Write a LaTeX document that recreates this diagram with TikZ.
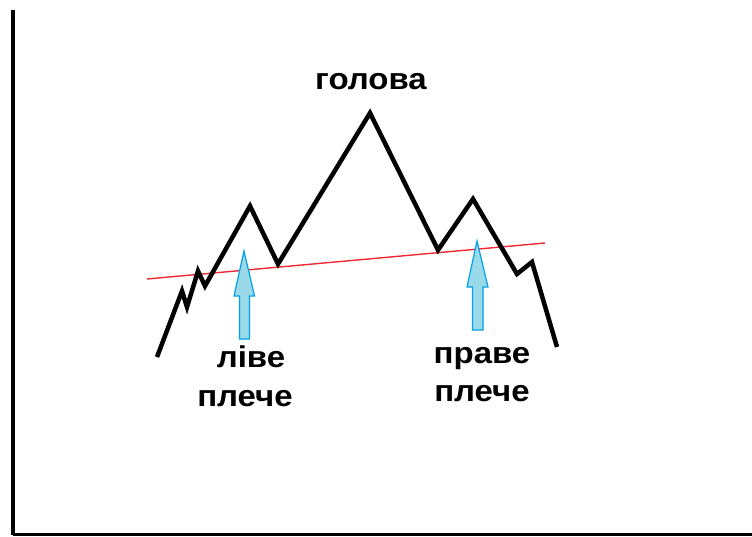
\documentclass[tikz,border=0pt]{standalone}
\usepackage{fontspec}
\setmainfont{Liberation Sans}
\begin{document}
\begin{tikzpicture}[x=1pt,y=-1pt,
  lbl/.style={font=\fontsize{30}{32}\selectfont\bfseries, inner sep=0pt, anchor=base, xscale=1.1},
  price/.style={line width=4.5pt, line join=miter, miter limit=4},
  neck/.style={draw={rgb,255:red,240;green,40;blue,50}, line width=1.4pt},
  uparrow/.style={draw={rgb,255:red,0;green,162;blue,232}, fill={rgb,255:red,153;green,217;blue,234}, line width=1.2pt, line join=miter},
  axis/.style={line width=3.8pt}]
\useasboundingbox (0,0) rectangle (752,536);
\fill[white] (0,0) rectangle (752,536);
% axes
\coordinate (top) at (13,10);
\coordinate (origin) at (13,534.5);
\coordinate (right) at (752,534.5);
\draw[axis] (top) -- (origin);
\draw[line width=2.5pt] (origin) -- (right);
% price path
\coordinate (p0) at (157,357);
\coordinate (p1) at (182,291);
\coordinate (p2) at (187,307);
\coordinate (p3) at (198,271);
\coordinate (p4) at (205,286);
\coordinate (p5) at (250,206);
\coordinate (p6) at (278,264);
\coordinate (p7) at (370,113);
\coordinate (p8) at (438,250);
\coordinate (p9) at (473,199);
\coordinate (p10) at (517,274);
\coordinate (p11) at (532,262);
\coordinate (p12) at (557,347);
\draw[neck] (147,279) coordinate (nl) -- (545,243) coordinate (nr);
\draw[price] (p0) -- (p1) -- (p2) -- (p3) -- (p4) -- (p5) -- (p6) -- (p7) -- (p8) -- (p9) -- (p10) -- (p11) -- (p12);
% arrows
\draw[uparrow] (239.5,339) -- (239.5,296) -- (234,296) -- (244,251) -- (254.5,296) -- (249.5,296) -- (249.5,339) -- cycle;
\draw[uparrow] (472.5,330) -- (472.5,287) -- (467,287) -- (477,241) -- (488,287) -- (483,287) -- (483,330) -- cycle;
% labels
\node[lbl] (head) at (371,89) {голова};
\node[lbl] (ls1) at (251,367) {ліве};
\node[lbl] (ls2) at (245,406) {плече};
\node[lbl] (rs1) at (482,363) {праве};
\node[lbl] (rs2) at (482,401) {плече};
\end{tikzpicture}
\end{document}
